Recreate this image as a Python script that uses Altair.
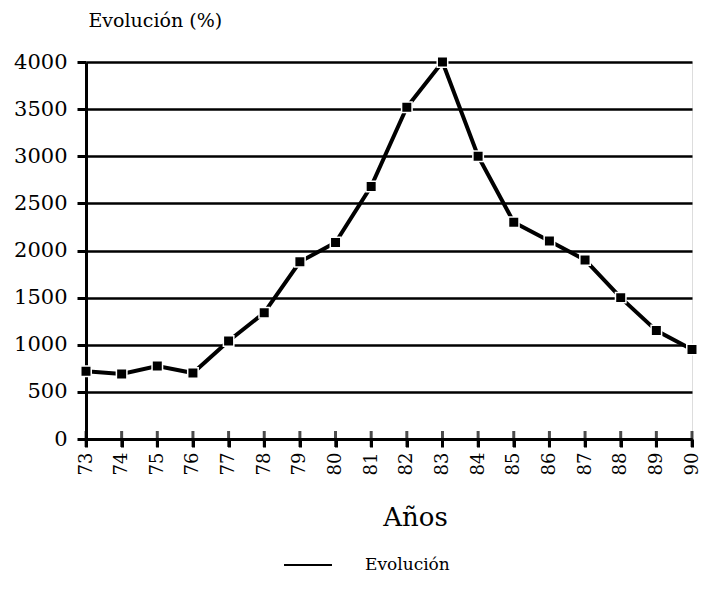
import altair as alt
import pandas as pd

years = ["73", "74", "75", "76", "77", "78", "79", "80", "81", "82",
         "83", "84", "85", "86", "87", "88", "89", "90"]
values = [720, 690, 775, 700, 1040, 1340, 1880, 2085, 2680, 3520,
          4000, 3000, 2300, 2100, 1900, 1500, 1150, 950]
series_name = "Evolución"
y_ticks = [0, 500, 1000, 1500, 2000, 2500, 3000, 3500, 4000]

df = pd.DataFrame({"year": years, "value": values, "series": [series_name] * len(years)})

FONT = "DejaVu Serif"

x_enc = alt.X(
    "year:O",
    sort=years,
    scale=alt.Scale(type="point", padding=0),
    axis=alt.Axis(
        title="Años",
        titleFont=FONT, titleFontSize=26, titleFontWeight="normal", titleColor="black",
        titlePadding=30, titleX=329,
        labelAngle=270, labelFont=FONT, labelFontSize=18, labelColor="black",
        labelPadding=5, tickSize=8, tickWidth=3, tickColor="black",
        domainColor="black", domainWidth=3, grid=False,
    ),
)

y_enc = alt.Y(
    "value:Q",
    scale=alt.Scale(domain=[0, 4000], nice=False, zero=True),
    axis=alt.Axis(
        title="Evolución (%)", titleAngle=0, titleAlign="left", titleBaseline="middle",
        titleX=2, titleY=-42, titleFont=FONT, titleFontSize=19, titleFontWeight="normal",
        titleColor="black",
        values=y_ticks, format="d", labelFont=FONT, labelFontSize=21, labelColor="black",
        labelPadding=10, tickSize=9, tickWidth=3, tickColor="black",
        domainColor="black", domainWidth=3,
        grid=True, gridColor="black", gridWidth=2.5, gridOpacity=1,
    ),
)

base = alt.Chart(df)

line = base.mark_line(strokeWidth=4).encode(
    x=x_enc,
    y=y_enc,
    color=alt.Color(
        "series:N",
        scale=alt.Scale(domain=[series_name], range=["black"]),
        legend=alt.Legend(
            title=None, orient="none", legendX=197, legendY=478,
            symbolType="stroke", symbolSize=2300, symbolStrokeWidth=2,
            labelFont=FONT, labelFontSize=17, labelColor="black", labelOffset=32,
        ),
    ),
)

points = base.mark_square(size=110, color="black", stroke="white", strokeWidth=1.5, opacity=1).encode(
    x=alt.X("year:O", sort=years),
    y="value:Q",
)

xticks = base.mark_tick(color="black", thickness=3, size=16, orient="vertical").encode(
    x=alt.X("year:O", sort=years),
    y=alt.value(377),
)

chart = alt.layer(line, points, xticks).properties(
    width=606, height=377,
    autosize=alt.AutoSizeParams(type="none"),
    padding={"left": 78, "top": 54, "right": 9, "bottom": 153},
).configure_view(stroke=None).configure(background="white")

chart.save("out.html", embed_options={"renderer": "svg", "actions": False})
